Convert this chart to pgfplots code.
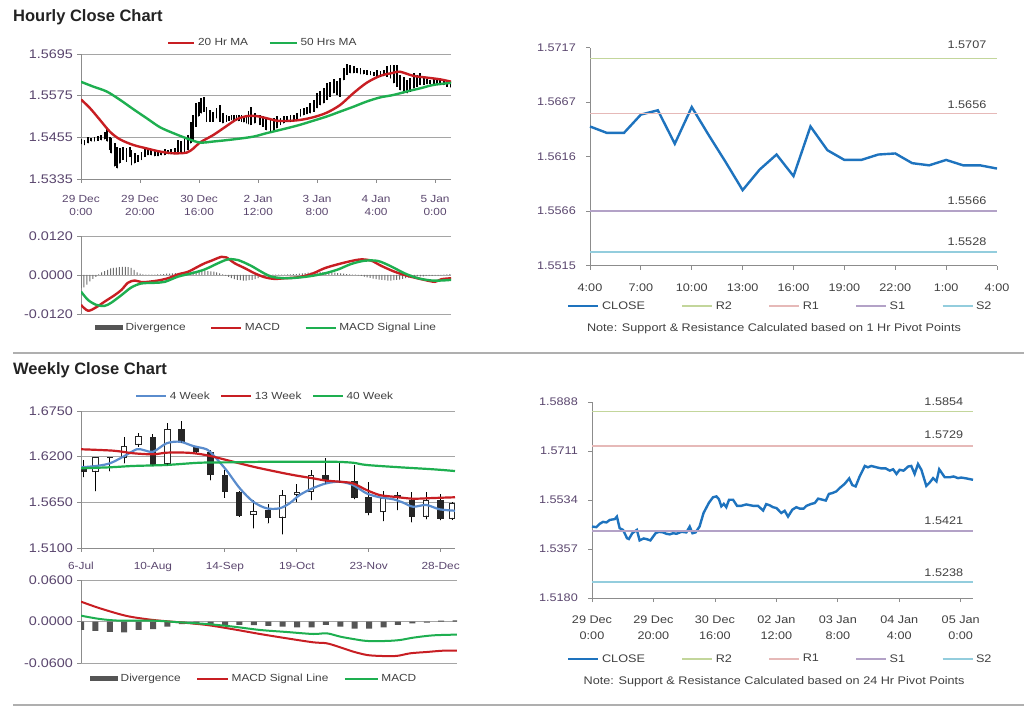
\documentclass[border=0pt]{standalone}
\usepackage{fontspec}
\setmainfont{Liberation Sans}
\newfontfamily\cf[FakeStretch=1.15]{Liberation Sans}
\usepackage{pgfplots}
\usepackage{pgfplotstable}
\pgfplotsset{compat=1.18}

% colours
\definecolor{maRed}{RGB}{200,30,35}
\definecolor{maGreen}{RGB}{30,175,80}
\definecolor{closeBlue}{RGB}{30,115,190}
\definecolor{wkBlue}{RGB}{90,140,205}
\definecolor{rTwo}{RGB}{195,214,155}
\definecolor{rOne}{RGB}{230,185,184}
\definecolor{sOne}{RGB}{179,162,199}
\definecolor{sTwo}{RGB}{147,205,221}
\definecolor{tickc}{RGB}{90,70,110}
\definecolor{txt}{RGB}{64,64,64}
\definecolor{gridc}{RGB}{165,165,165}
\definecolor{axc}{RGB}{140,140,140}
\definecolor{divc}{RGB}{85,85,85}
\definecolor{sepc}{RGB}{175,175,175}
\definecolor{ttl}{RGB}{35,35,35}

\newcommand\fBig{\fontsize{12.5}{14}\cf}
\newcommand\fTick{\fontsize{10.3}{13}\cf}
\newcommand\fLeg{\fontsize{10.3}{12}\cf}
\newcommand\fR{\fontsize{11}{16}\cf}

% ---------- hourly candles: x low high ----------
\pgfplotstableread{
x lo hi
0.1 1.5436 1.5449
1.2 1.5433 1.5447
2.4 1.5438 1.5455
3.5 1.5443 1.5452
4.6 1.5443 1.5455
5.8 1.5445 1.5459
6.9 1.5447 1.5462
8.0 1.5449 1.5471
8.9 1.5443 1.5478
9.7 1.5419 1.5457
10.3 1.5409 1.5452
11.4 1.5371 1.5438
12.3 1.5366 1.5428
13.1 1.5380 1.5423
14.2 1.5390 1.5428
15.4 1.5385 1.5423
16.5 1.5399 1.5428
17.1 1.5375 1.5419
18.2 1.5380 1.5409
19.3 1.5385 1.5404
20.5 1.5390 1.5414
21.6 1.5399 1.5423
22.7 1.5404 1.5419
23.8 1.5404 1.5420
25.0 1.5401 1.5419
26.1 1.5401 1.5416
27.2 1.5404 1.5414
28.4 1.5404 1.5420
29.5 1.5407 1.5419
30.6 1.5409 1.5420
31.8 1.5407 1.5423
32.9 1.5409 1.5447
34.0 1.5411 1.5443
35.1 1.5414 1.5457
36.3 1.5419 1.5462
37.2 1.5438 1.5500
38.0 1.5447 1.5519
39.1 1.5486 1.5553
39.9 1.5515 1.5558
40.8 1.5524 1.5567
41.7 1.5529 1.5572
42.5 1.5500 1.5543
43.6 1.5500 1.5534
44.8 1.5500 1.5529
45.9 1.5510 1.5539
47.0 1.5500 1.5548
48.1 1.5495 1.5524
49.3 1.5500 1.5519
50.1 1.5503 1.5517
51.0 1.5505 1.5519
51.8 1.5503 1.5520
52.7 1.5505 1.5519
53.5 1.5502 1.5519
54.4 1.5500 1.5519
55.2 1.5498 1.5517
56.1 1.5495 1.5515
56.8 1.5493 1.5530
57.5 1.5491 1.5543
58.9 1.5495 1.5524
60.6 1.5491 1.5519
61.7 1.5486 1.5515
62.8 1.5476 1.5510
64.2 1.5471 1.5505
65.3 1.5476 1.5510
66.4 1.5481 1.5515
67.6 1.5491 1.5510
68.7 1.5495 1.5515
69.8 1.5500 1.5515
71.0 1.5500 1.5519
72.1 1.5503 1.5519
73.2 1.5505 1.5524
74.4 1.5515 1.5536
75.5 1.5519 1.5539
76.6 1.5522 1.5543
77.7 1.5524 1.5553
78.9 1.5529 1.5563
80.0 1.5539 1.5582
81.1 1.5548 1.5587
82.3 1.5553 1.5596
83.4 1.5563 1.5611
84.5 1.5572 1.5615
85.7 1.5582 1.5622
86.8 1.5577 1.5618
87.9 1.5572 1.5625
89.0 1.5620 1.5654
90.2 1.5635 1.5666
91.3 1.5640 1.5663
92.4 1.5640 1.5659
93.6 1.5640 1.5654
94.7 1.5637 1.5654
95.8 1.5637 1.5649
97.0 1.5635 1.5649
98.1 1.5635 1.5647
99.2 1.5632 1.5644
100.3 1.5630 1.5649
101.5 1.5630 1.5647
102.6 1.5632 1.5649
103.7 1.5630 1.5659
104.9 1.5625 1.5663
106.0 1.5611 1.5663
107.1 1.5601 1.5663
108.2 1.5591 1.5635
109.4 1.5582 1.5630
110.5 1.5582 1.5620
111.6 1.5587 1.5625
112.8 1.5596 1.5640
113.9 1.5601 1.5635
115.0 1.5606 1.5640
116.2 1.5606 1.5625
117.3 1.5608 1.5622
118.4 1.5608 1.5620
119.6 1.5609 1.5622
120.7 1.5606 1.5620
121.8 1.5608 1.5622
122.9 1.5606 1.5618
124.1 1.5601 1.5615
125.2 1.5599 1.5615
}\hourC

\pgfplotstableread{
x y
0 1.5564
3.05 1.5539
6.44 1.5505
9.83 1.5471
13.22 1.5449
17.74 1.5433
22.26 1.5423
26.78 1.5414
31.3 1.5409
35.8 1.5411
38.1 1.5423
40.3 1.5440
44.9 1.5462
49.4 1.5488
52.8 1.5507
56.2 1.5516
59.6 1.5516
62.9 1.5510
66.3 1.5503
69.7 1.5502
74.2 1.5505
78.8 1.5513
83.3 1.5526
87.8 1.5548
92.3 1.5582
96.8 1.5612
101.4 1.5632
105.9 1.5641
108.1 1.5644
112.7 1.5632
117.2 1.5627
121.7 1.5622
125.6 1.5615
}\maTwenty

\pgfplotstableread{
x y
0 1.5615
4.18 1.5601
8.7 1.5587
13.22 1.5563
17.74 1.5536
22.26 1.5510
26.78 1.5484
31.3 1.5467
35.8 1.5452
40.3 1.5440
44.9 1.5443
51.6 1.5449
58.4 1.5457
62.9 1.5467
69.7 1.5481
74.2 1.5491
78.8 1.5503
83.3 1.5515
87.8 1.5529
92.3 1.5543
96.8 1.5558
101.4 1.5570
105.9 1.5577
110.4 1.5587
114.9 1.5596
119.5 1.5606
125.6 1.5612
}\maFifty

% ---------- hourly MACD ----------
\pgfplotstableread{
x y
0 -0.0092
2.4 -0.0110
5.2 -0.0099
8.0 -0.0082
11.4 -0.0062
13.7 -0.0046
15.9 -0.0024
18.2 -0.0017
20.5 -0.0022
22.7 -0.0021
26.1 -0.0017
29.5 -0.0010
32.9 0.0002
36.3 0.0010
39.7 0.0026
41.9 0.0036
44.2 0.0044
47.6 0.0056
49.3 0.0054
52.1 0.0036
55.5 0.0021
58.9 0.0005
62.3 -0.0007
65.6 -0.0012
69.0 -0.0010
73.6 -0.0007
78.1 0.0003
82.6 0.0021
87.1 0.0033
91.6 0.0043
95.0 0.0048
98.4 0.0044
101.8 0.0028
106.3 0.0010
110.8 -0.0003
115.4 -0.0013
119.9 -0.0021
122.1 -0.0013
125.5 -0.0010
}\hMacd

\pgfplotstableread{
x y
0 -0.0051
2.4 -0.0077
5.2 -0.0092
8.0 -0.0095
10.3 -0.0085
13.7 -0.0062
17.1 -0.0038
20.5 -0.0026
25.0 -0.0024
28.4 -0.0021
32.9 -0.0005
37.4 0.0005
41.9 0.0017
46.4 0.0036
49.8 0.0048
53.2 0.0046
57.7 0.0028
61.1 0.0010
64.5 -0.0005
69.0 -0.0010
73.6 -0.0008
78.1 -0.0003
82.6 0.0005
87.1 0.0017
91.6 0.0034
96.2 0.0044
100.7 0.0043
105.2 0.0026
109.7 0.0005
114.2 -0.0010
118.8 -0.0017
122.1 -0.0017
125.5 -0.0015
}\hSig

\pgfplotstableread{
x y
0 -0.0040
1 -0.0038
2 -0.0030
3 -0.0020
4 -0.0012
5 -0.0006
6 0.0002
7 0.0008
8 0.0012
9 0.0016
10 0.0020
11 0.0022
12 0.0023
13 0.0024
14 0.0025
15 0.0025
16 0.0024
17 0.0022
18 0.0016
19 0.0008
20 0.0004
21 0.0002
22 0.0001
23 0.0001
24 0.0001
25 0.0001
26 0.0002
27 0.0002
28 0.0003
29 0.0004
30 0.0004
31 0.0005
32 0.0006
33 0.0006
34 0.0007
35 0.0008
36 0.0009
37 0.0010
38 0.0011
39 0.0012
40 0.0013
41 0.0013
42 0.0013
43 0.0012
44 0.0011
45 0.0010
46 0.0008
47 0.0005
48 0.0002
49 -0.0002
50 -0.0006
51 -0.0010
52 -0.0013
53 -0.0015
54 -0.0016
55 -0.0017
56 -0.0017
57 -0.0016
58 -0.0015
59 -0.0013
60 -0.0010
61 -0.0006
62 -0.0003
63 -0.0001
64 0.0001
65 0.0001
66 0.0001
67 0.0001
68 0.0001
69 0.0001
70 0.0002
71 0.0002
72 0.0003
73 0.0003
74 0.0004
75 0.0005
76 0.0006
77 0.0007
78 0.0008
79 0.0009
80 0.0009
81 0.0009
82 0.0009
83 0.0009
84 0.0008
85 0.0008
86 0.0007
87 0.0006
88 0.0005
89 0.0004
90 0.0003
91 0.0002
92 0.0001
93 0.0001
94 -0.0001
95 -0.0003
96 -0.0005
97 -0.0007
98 -0.0009
99 -0.0011
100 -0.0013
101 -0.0014
102 -0.0015
103 -0.0016
104 -0.0017
105 -0.0017
106 -0.0016
107 -0.0015
108 -0.0014
109 -0.0012
110 -0.0010
111 -0.0008
112 -0.0006
113 -0.0005
114 -0.0004
115 -0.0004
116 -0.0004
117 -0.0003
118 -0.0003
119 -0.0003
120 -0.0002
121 -0.0002
122 -0.0001
123 0.0001
124 0.0002
125 0.0003
}\hDiv

% ---------- hourly close (1 Hr pivots) ----------
\pgfplotstableread{
x y
0 1.5644
1 1.5638
2 1.5638
3 1.5655
4 1.5659
5 1.5628
6 1.5662
7 1.5636
8 1.5611
9 1.5585
10 1.5604
11 1.5618
12 1.5598
13 1.5644
14 1.5622
15 1.5613
16 1.5613
17 1.5618
18 1.5619
19 1.5610
20 1.5608
21 1.5613
22 1.5608
23 1.5608
24 1.5605
}\hrClose

% ---------- weekly candles: x open close high low ----------
\pgfplotstableread{
x o c h l
0.2 1.6079 1.6020 1.6160 1.5955
2 1.6190 1.6180 1.6195 1.6025
5 1.6440 1.6100 1.6469 1.6091
7 1.6533 1.6380 1.6633 1.6372
8 1.6320 1.6260 1.6330 1.6250
9 1.6260 1.5979 1.6280 1.5919
10 1.5979 1.5778 1.6039 1.5706
11 1.5771 1.5489 1.5786 1.5477
13 1.5558 1.5465 1.5626 1.5397
17 1.5979 1.5907 1.6180 1.5879
18 1.5903 1.5897 1.6120 1.5890
19 1.5907 1.5706 1.6100 1.5690
20 1.5718 1.5518 1.5891 1.5497
22 1.5738 1.5699 1.5771 1.5558
23 1.5678 1.5477 1.5778 1.5410
25 1.5678 1.5449 1.5747 1.5437
}\wkBlack

\pgfplotstableread{
x o c h l
1 1.6015 1.6196 1.6200 1.5786
3 1.6180 1.6332 1.6440 1.6120
4 1.6340 1.6449 1.6481 1.6320
6 1.6108 1.6533 1.6602 1.6100
12 1.5497 1.5546 1.5678 1.5337
14 1.5465 1.5738 1.5799 1.5265
15 1.5738 1.5778 1.5867 1.5658
16 1.5771 1.5979 1.6039 1.5678
21 1.5530 1.5699 1.5786 1.5425
24 1.5477 1.5678 1.5771 1.5449
25.8 1.5449 1.5638 1.5650 1.5440
}\wkWhite

\pgfplotstableread{
x y
0 1.6072
1.09 1.6088
2.01 1.6120
2.94 1.6200
3.87 1.6289
4.33 1.6280
5.02 1.6260
5.95 1.6361
6.88 1.6380
7.8 1.6328
8.73 1.6289
9.19 1.6220
10.1 1.6039
11.04 1.5819
11.97 1.5658
12.9 1.5578
13.8 1.5578
14.5 1.5638
15.2 1.5738
16.1 1.5819
17.06 1.5879
18 1.5898
18.9 1.5859
19.84 1.5759
20.76 1.5711
21.7 1.5687
22.4 1.5646
23.08 1.5597
24 1.5618
24.93 1.5566
26 1.5549
}\wkFour

\pgfplotstableread{
x y
0 1.6289
2.25 1.6272
3.63 1.6241
5.02 1.6228
5.95 1.6248
7.34 1.6248
8.26 1.6232
9.19 1.6200
10.58 1.6139
11.97 1.6079
13.36 1.6027
14.75 1.5979
16.13 1.5939
17.06 1.5911
18 1.5898
18.9 1.5879
19.84 1.5799
20.76 1.5738
21.7 1.5718
23.08 1.5694
24.47 1.5702
26 1.5711
}\wkThirteen

\pgfplotstableread{
x y
0 1.6060
2.01 1.6072
3.63 1.6088
5.95 1.6100
8.26 1.6127
10.58 1.6132
12.9 1.6139
15.2 1.6139
17.5 1.6139
18.9 1.6127
19.84 1.6100
22.16 1.6072
24.47 1.6048
26 1.6027
}\wkForty

% ---------- weekly MACD ----------
\pgfplotstableread{
x y
0 -0.0120
1 -0.0134
2 -0.0149
3 -0.0154
4 -0.0120
5 -0.0106
6 -0.0072
7 -0.0034
8 -0.0038
9 -0.0048
10 -0.0048
11 -0.0048
12 -0.0050
13 -0.0062
14 -0.0072
15 -0.0082
16 -0.0082
17 -0.0048
18 -0.0072
19 -0.0101
20 -0.0101
21 -0.0082
22 -0.0048
23 -0.0024
24 -0.0014
25 0.0015
26 0.0020
}\wDiv

\pgfplotstableread{
x y
0 0.0288
1.32 0.0192
3.17 0.0082
5.02 0.0024
6.88 -0.0010
8.73 -0.0048
10.58 -0.0110
12.43 -0.0178
14.28 -0.0240
16.13 -0.0298
17.06 -0.0312
18 -0.0370
18.9 -0.0432
19.84 -0.0480
20.76 -0.0494
21.9 -0.0494
22.85 -0.0456
24 -0.0437
25.16 -0.0418
26.09 -0.0418
}\wSig

\pgfplotstableread{
x y
0 0.0086
1.32 0.0038
2.71 0.0014
5.02 0.0014
6.88 -0.0010
8.73 -0.0034
10.58 -0.0072
12.43 -0.0120
14.28 -0.0149
16.13 -0.0178
17.06 -0.0168
18 -0.0216
18.9 -0.0250
19.84 -0.0278
21.23 -0.0278
22.16 -0.0264
23.08 -0.0230
24.47 -0.0197
26.09 -0.0187
}\wMacd

% ---------- 24 Hr pivot close ----------
\pgfplotstableread{
x y
0 1.5438
1.4 1.5436
2.5 1.5448
3.6 1.5455
4.7 1.5453
5.8 1.5462
7.4 1.5465
8.1 1.5474
9.0 1.5432
10.1 1.5426
11.4 1.5396
12.0 1.5393
13.1 1.5414
14.6 1.5426
15.5 1.5388
16.8 1.5395
17.7 1.5393
19.0 1.5388
20.7 1.5414
21.8 1.5419
23.1 1.5417
24.2 1.5412
25.3 1.5410
26.4 1.5414
27.5 1.5412
29.1 1.5419
30.7 1.5417
31.8 1.5438
32.7 1.5414
33.7 1.5417
35.0 1.5438
36.3 1.5487
38.1 1.5525
39.4 1.5544
40.5 1.5547
41.3 1.5537
42.1 1.5511
42.9 1.5520
43.7 1.5508
44.6 1.5535
45.9 1.5535
47.2 1.5513
48.6 1.5513
50.2 1.5518
52.4 1.5513
54.0 1.5513
55.7 1.5496
56.7 1.5519
57.8 1.5515
58.9 1.5508
60.0 1.5505
61.6 1.5487
62.7 1.5495
63.8 1.5474
65.2 1.5499
66.5 1.5508
67.6 1.5503
68.9 1.5503
69.8 1.5513
71.4 1.5520
72.5 1.5523
73.6 1.5539
75.0 1.5535
76.1 1.5532
77.1 1.5556
78.2 1.5559
79.5 1.5565
80.6 1.5577
82.2 1.5592
83.7 1.5612
84.7 1.5588
85.8 1.5583
87.1 1.5619
88.8 1.5657
89.8 1.5652
90.9 1.5657
92.6 1.5652
94.2 1.5648
95.6 1.5648
96.9 1.5640
98.0 1.5645
99.1 1.5628
100.1 1.5643
101.4 1.5640
102.9 1.5655
103.9 1.5657
105.0 1.5628
106.1 1.5664
107.2 1.5643
108.8 1.5585
109.9 1.5597
111.0 1.5613
112.1 1.5601
113.0 1.5645
114.8 1.5616
116.4 1.5616
117.7 1.5619
119.1 1.5613
120.2 1.5615
121.8 1.5612
124.0 1.5607
}\dyClose

\pgfplotsset{
  every axis/.append style={scale only axis, anchor=south west},
  limg/.style={legend image code/.code={\draw[##1] (0pt,0pt) -- (#1,0pt);}},
  dimg/.style={legend image code/.code={\fill[divc] (0pt,-2.5pt) rectangle (#1,2.5pt);}},
  common/.style={
    axis line style={-, draw=axc, line width=0.8pt},
    tick style={draw=axc, line width=0.8pt},
    major tick length=4pt, tick align=outside,
    scaled y ticks=false, scaled x ticks=false,
    legend columns=-1, legend cell align=left,
    legend style={draw=none, fill=none, inner sep=0pt, font=\fLeg, text=txt,
      nodes={inner sep=0.5pt},
      /tikz/every odd column/.append style={column sep=2pt}},
  },
  priceL/.style={common, axis x line*=bottom, axis y line*=left,
    ymajorgrids, grid style={draw=gridc, line width=0.8pt},
    yticklabel style={font=\fBig, text=tickc, inner sep=0pt}, yticklabel shift=4pt,
    xticklabel style={font=\fTick, text=tickc, align=center, inner sep=0pt}, xticklabel shift=12pt},
  macdL/.style={common, axis x line=none, axis y line*=left, xtick=\empty,
    ymajorgrids, grid style={draw=gridc, line width=0.8pt},
    yticklabel style={font=\fBig, text=tickc, inner sep=0pt}, yticklabel shift=4pt},
  pivotR/.style={common, axis x line*=bottom, axis y line*=left, clip=false,
    legend style={font=\fR},
    yticklabel style={font=\fR, text=tickc, inner sep=0pt}, yticklabel shift=10pt,
    xticklabel style={font=\fR, text=txt, align=center, inner sep=0pt}, xticklabel shift=14pt,
    /tikz/every even column/.append style={column sep=36pt}},
  wick/.style={forget plot, only marks, mark=*, mark size=0.01pt, mark options={draw=none, fill=none},
    error bars/.cd, y dir=plus, y explicit,
    error mark=none, error bar style={draw=#1}},
}

\begin{document}
\begin{tikzpicture}
\path[use as bounding box, fill=white] (0pt,0pt) rectangle (1024pt,706pt);
\node[anchor=base west, inner sep=0pt, font=\bfseries\fontsize{16.5}{18}\selectfont, text=ttl] at (13pt,684pt) {Hourly Close Chart};
\node[anchor=base west, inner sep=0pt, font=\bfseries\fontsize{16.5}{18}\selectfont, text=ttl] at (13pt,331pt) {Weekly Close Chart};
\draw[sepc, line width=2pt] (13pt,353pt) -- (1024pt,353pt);
\draw[sepc, line width=2pt] (13pt,1.5pt) -- (1024pt,1.5pt);

% ===== hourly candles =====
\begin{axis}[priceL, at={(81pt,527pt)}, width=370pt, height=125pt,
  xmin=0, xmax=125.4, ymin=1.5335, ymax=1.5695,
  ytick={1.5335,1.5455,1.5575,1.5695}, yticklabels={1.5335,1.5455,1.5575,1.5695},
  xtick={0,20,40,60,80,100,120},
  xticklabels={{29 Dec\\0:00},{29 Dec\\20:00},{30 Dec\\16:00},{2 Jan\\12:00},{3 Jan\\8:00},{4 Jan\\4:00},{5 Jan\\0:00}},
  legend style={at={(0.2324,1.088)}, anchor=west, /tikz/every even column/.append style={column sep=20pt}}]
\addplot[wick={black, line width=1.8pt}] table[x=x, y=lo, y error plus expr=\thisrow{hi}-\thisrow{lo}] {\hourC};
\addplot[maRed, line width=2.4pt, smooth, limg=26pt] table {\maTwenty};
\addlegendentry{20 Hr MA}
\addplot[maGreen, line width=2.4pt, smooth, limg=27pt] table {\maFifty};
\addlegendentry{50 Hrs MA}
\end{axis}

% ===== hourly MACD =====
\begin{axis}[macdL, at={(81pt,392pt)}, width=370pt, height=78pt,
  xmin=0, xmax=125.4, ymin=-0.012, ymax=0.012,
  ytick={-0.012,0,0.012}, yticklabels={-0.0120,0.0000,0.0120},
  legend style={at={(0.0378,-0.179)}, anchor=west, /tikz/every even column/.append style={column sep=24pt}}]
\addplot[ybar, bar width=1pt, fill={rgb,255:red,110;green,110;blue,110}, draw=none, dimg=28pt] table {\hDiv};
\addlegendentry{Divergence}
\addplot[maRed, line width=2.4pt, smooth, limg=30pt] table {\hMacd};
\addlegendentry{MACD}
\addplot[maGreen, line width=2.4pt, smooth, limg=30pt] table {\hSig};
\addlegendentry{MACD Signal Line}
\end{axis}

% ===== hourly pivots =====
\begin{axis}[pivotR, at={(590pt,440.3pt)}, width=407pt, height=218pt,
  xmin=0, xmax=24, ymin=1.5515, ymax=1.5717,
  ytick={1.5515,1.55655,1.5616,1.56665,1.5717}, yticklabels={1.5515,1.5566,1.5616,1.5667,1.5717},
  xtick={0,3,...,24}, xticklabels={4:00,7:00,10:00,13:00,16:00,19:00,22:00,1:00,4:00},
  legend style={at={(-0.0565,-0.185)}, anchor=west}]
\addplot[closeBlue, line width=2.4pt, limg=30pt] table {\hrClose};
\addlegendentry{CLOSE}
\addplot[rTwo, line width=1.8pt, limg=30pt] coordinates {(0,1.5707) (24,1.5707)};
\addlegendentry{R2}
\addplot[rOne, line width=1.8pt, limg=30pt] coordinates {(0,1.5656) (24,1.5656)};
\addlegendentry{R1}
\addplot[sOne, line width=1.8pt, limg=30pt] coordinates {(0,1.5566) (24,1.5566)};
\addlegendentry{S1}
\addplot[sTwo, line width=1.8pt, limg=30pt] coordinates {(0,1.5528) (24,1.5528)};
\addlegendentry{S2}
\node[anchor=base, font=\fR, text=txt, inner sep=0pt] at (axis cs:22.23,1.5707) [yshift=10pt] {1.5707};
\node[anchor=base, font=\fR, text=txt, inner sep=0pt] at (axis cs:22.23,1.5656) [yshift=5pt] {1.5656};
\node[anchor=base, font=\fR, text=txt, inner sep=0pt] at (axis cs:22.23,1.5566) [yshift=6pt] {1.5566};
\node[anchor=base, font=\fR, text=txt, inner sep=0pt] at (axis cs:22.23,1.5528) [yshift=6.5pt] {1.5528};
\node[font=\fR, text=txt] at (axis description cs:0.452,-0.290) {Note: Support \& Resistance Calculated based on 1 Hr Pivot Points};
\end{axis}

% ===== weekly candles =====
\begin{axis}[priceL, at={(81pt,158pt)}, width=374pt, height=137pt,
  xmin=0, xmax=26, ymin=1.51, ymax=1.675,
  ytick={1.51,1.565,1.62,1.675}, yticklabels={1.5100,1.5650,1.6200,1.6750},
  xtick={0,5,...,25}, xticklabels={6-Jul,10-Aug,14-Sep,19-Oct,23-Nov,28-Dec},
  xticklabel shift=10pt,
  legend style={at={(0.144,1.109)}, anchor=west, /tikz/every even column/.append style={column sep=10pt}}]
\addplot[wick={black, line width=1pt}] table[x=x, y=l, y error plus expr=\thisrow{h}-\thisrow{l}] {\wkBlack};
\addplot[wick={black, line width=1pt}] table[x=x, y=l, y error plus expr=\thisrow{h}-\thisrow{l}] {\wkWhite};
\addplot[wick={black!85, line width=6.5pt}] table[x=x, y=c, y error plus expr=\thisrow{o}-\thisrow{c}] {\wkBlack};
\addplot[wick={black!85, line width=6.5pt}] table[x=x, y=o, y error plus expr=\thisrow{c}-\thisrow{o}] {\wkWhite};
\addplot[wick={white, line width=4.5pt}]
  table[x=x, y expr=\thisrow{o}+0.0012, y error plus expr=\thisrow{c}-\thisrow{o}-0.0024] {\wkWhite};
\addplot[wkBlue, line width=2.2pt, smooth, limg=30pt] table {\wkFour};
\addlegendentry{4 Week}
\addplot[maRed, line width=2.2pt, smooth, limg=30pt] table {\wkThirteen};
\addlegendentry{13 Week}
\addplot[maGreen, line width=2.2pt, smooth, limg=30pt] table {\wkForty};
\addlegendentry{40 Week}
\end{axis}

% ===== weekly MACD =====
\begin{axis}[macdL, at={(81pt,42.7pt)}, width=376pt, height=83.3pt,
  xmin=0, xmax=26.1, ymin=-0.06, ymax=0.06,
  ytick={-0.06,0,0.06}, yticklabels={-0.0600,0.0000,0.0600},
  legend style={at={(0.024,-0.188)}, anchor=west, /tikz/every even column/.append style={column sep=15pt}}]
\addplot[ybar, bar width=6pt, fill=divc, draw=none, dimg=28pt] table {\wDiv};
\addlegendentry{Divergence}
\addplot[maRed, line width=2pt, smooth, limg=31pt] table {\wSig};
\addlegendentry{MACD Signal Line}
\addplot[maGreen, line width=2pt, smooth, limg=33pt] table {\wMacd};
\addlegendentry{MACD}
\end{axis}

% ===== 24 Hr pivots =====
\begin{axis}[pivotR, at={(592pt,108pt)}, width=381pt, height=196pt,
  xmin=0, xmax=124, ymin=1.518, ymax=1.5888,
  ytick={1.518,1.5357,1.5534,1.5711,1.5888}, yticklabels={1.5180,1.5357,1.5534,1.5711,1.5888},
  xtick={0,20,...,120},
  xticklabels={{29 Dec\\0:00},{29 Dec\\20:00},{30 Dec\\16:00},{02 Jan\\12:00},{03 Jan\\8:00},{04 Jan\\4:00},{05 Jan\\0:00}},
  legend style={at={(-0.0656,-0.311)}, anchor=west}]
\addplot[closeBlue, line width=2.4pt, limg=30pt] table {\dyClose};
\addlegendentry{CLOSE}
\addplot[rTwo, line width=1.8pt, limg=30pt] coordinates {(0,1.5854) (124,1.5854)};
\addlegendentry{R2}
\addplot[rOne, line width=1.8pt, limg=30pt] coordinates {(0,1.5729) (124,1.5729)};
\addlegendentry{R1}
\addplot[sOne, line width=1.8pt, limg=30pt] coordinates {(0,1.5421) (124,1.5421)};
\addlegendentry{S1}
\addplot[sTwo, line width=1.8pt, limg=30pt] coordinates {(0,1.5238) (124,1.5238)};
\addlegendentry{S2}
\node[anchor=base, font=\fR, text=txt, inner sep=0pt] at (axis cs:114.5,1.5854) [yshift=6pt] {1.5854};
\node[anchor=base, font=\fR, text=txt, inner sep=0pt] at (axis cs:114.5,1.5729) [yshift=8pt] {1.5729};
\node[anchor=base, font=\fR, text=txt, inner sep=0pt] at (axis cs:114.5,1.5421) [yshift=7pt] {1.5421};
\node[anchor=base, font=\fR, text=txt, inner sep=0pt] at (axis cs:114.5,1.5238) [yshift=5pt] {1.5238};
\node[font=\fR, text=txt] at (axis description cs:0.478,-0.429) {Note: Support \& Resistance Calculated based on 24 Hr Pivot Points};
\end{axis}
\end{tikzpicture}
\end{document}
